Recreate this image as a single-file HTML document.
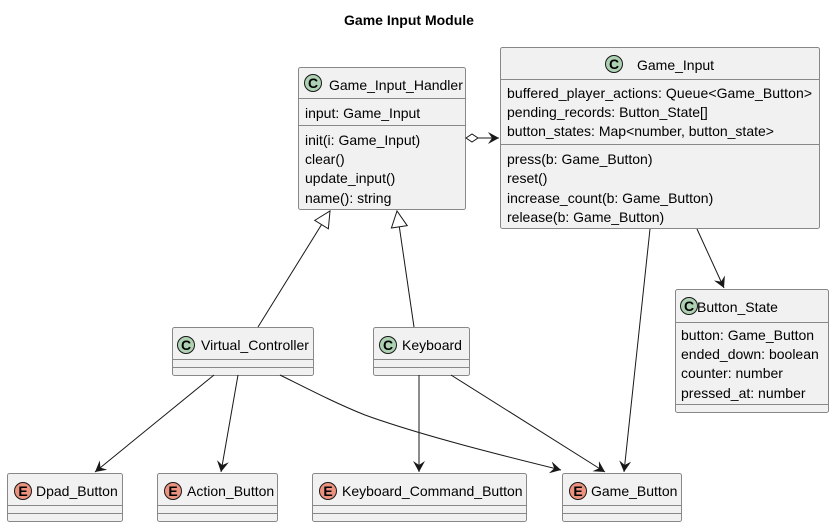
<!DOCTYPE html>
<html><head><style>body{margin:0;background:#fff}svg{display:block}text{font-family:"Liberation Sans",sans-serif;font-size:14px;fill:#000}</style></head><body>
<svg width="832" height="527" viewBox="0 0 832 527" xmlns="http://www.w3.org/2000/svg">
<defs>
<marker id="a" markerWidth="14" markerHeight="14" refX="11" refY="6" orient="auto" markerUnits="userSpaceOnUse"><path d="M0,0 L11,6 L0,12 L4,6 Z" fill="#181818"/></marker>
<marker id="t" markerWidth="20" markerHeight="20" refX="17" refY="9" orient="auto" markerUnits="userSpaceOnUse"><path d="M1,1 L17,9 L1,17 Z" fill="#fff" stroke="#181818"/></marker>
</defs>
<text x="409" y="25" text-anchor="middle" style="font-weight:bold;font-size:14px">Game Input Module</text>
<g fill="#F1F1F1" stroke="#888" stroke-width="1">
<rect x="298.5" y="67.5" width="167" height="142" rx="2"/>
<rect x="500.5" y="47.5" width="319" height="181" rx="2"/>
<rect x="675.5" y="289.5" width="153" height="123" rx="2"/>
<rect x="172.5" y="327.5" width="141" height="48" rx="2"/>
<rect x="373.5" y="327.5" width="96" height="48" rx="2"/>
<rect x="7.5" y="473.5" width="115" height="48" rx="2"/>
<rect x="157.5" y="473.5" width="120" height="48" rx="2"/>
<rect x="312.5" y="473.5" width="214" height="48" rx="2"/>
<rect x="562.5" y="473.5" width="119" height="48" rx="2"/>
</g>
<g stroke="#888" stroke-width="1">
<path d="M298 98.5H466M298 125.5H466"/>
<path d="M500 79.5H820M500 144.5H820"/>
<path d="M675 322.5H829M675 404.5H829"/>
<path d="M172 359.5H314M172 367.5H314M373 359.5H470M373 367.5H470"/>
<path d="M7 505.5H123M7 513.5H123M157 505.5H278M157 513.5H278M312 505.5H527M312 513.5H527M562 505.5H682M562 513.5H682"/>
</g>
<g stroke="#181818" stroke-width="1">
<circle cx="313" cy="83" r="8.5" fill="#ADD1B2"/>
<circle cx="614" cy="64" r="8.5" fill="#ADD1B2"/>
<circle cx="689" cy="306" r="8.5" fill="#ADD1B2"/>
<circle cx="186" cy="345" r="8.5" fill="#ADD1B2"/>
<circle cx="388" cy="345" r="8.5" fill="#ADD1B2"/>
<circle cx="23" cy="491" r="8.5" fill="#EB937F"/>
<circle cx="173" cy="491" r="8.5" fill="#EB937F"/>
<circle cx="328" cy="491" r="8.5" fill="#EB937F"/>
<circle cx="578" cy="491" r="8.5" fill="#EB937F"/>
</g>
<g style="font-family:'Liberation Serif',serif;font-weight:bold;font-size:13px" text-anchor="middle">
<text x="313" y="88">C</text><text x="614" y="69">C</text><text x="689" y="311">C</text><text x="186" y="350">C</text><text x="388" y="350">C</text>
<text x="23" y="496">E</text><text x="173" y="496">E</text><text x="328" y="496">E</text><text x="578" y="496">E</text>
</g>
<text x="329" y="90">Game_Input_Handler</text>
<text x="305" y="118">input: Game_Input</text>
<text x="305" y="145">init(i: Game_Input)</text>
<text x="305" y="164">clear()</text>
<text x="305" y="183">update_input()</text>
<text x="305" y="203">name(): string</text>
<text x="637" y="70">Game_Input</text>
<text x="507" y="98" textLength="305">buffered_player_actions: Queue&lt;Game_Button&gt;</text>
<text x="507" y="117">pending_records: Button_State[]</text>
<text x="507" y="136">button_states: Map&lt;number, button_state&gt;</text>
<text x="507" y="164">press(b: Game_Button)</text>
<text x="507" y="183">reset()</text>
<text x="507" y="203">increase_count(b: Game_Button)</text>
<text x="507" y="222">release(b: Game_Button)</text>
<text x="697" y="312">Button_State</text>
<text x="681" y="340">button: Game_Button</text>
<text x="681" y="359">ended_down: boolean</text>
<text x="681" y="378">counter: number</text>
<text x="681" y="398">pressed_at: number</text>
<text x="201" y="350">Virtual_Controller</text>
<text x="402" y="350">Keyboard</text>
<text x="36" y="496">Dpad_Button</text>
<text x="187" y="496">Action_Button</text>
<text x="342" y="496">Keyboard_Command_Button</text>
<text x="591" y="496">Game_Button</text>
<g stroke="#181818" stroke-width="1" fill="none">
<path d="M466,138 L472,134 L478,138 L472,142 Z" fill="#fff"/>
<path d="M478,138 L499,138" marker-end="url(#a)"/>
<path d="M258,327 L330,211" marker-end="url(#t)"/>
<path d="M414,327 L397,211" marker-end="url(#t)"/>
<path d="M650,229 L624,472" marker-end="url(#a)"/>
<path d="M697,229 L724,288" marker-end="url(#a)"/>
<path d="M214,375 L95,472" marker-end="url(#a)"/>
<path d="M238,375 L221,472" marker-end="url(#a)"/>
<path d="M280,375 C320,395 340,405 365,415 C420,435 500,455 561,470" marker-end="url(#a)"/>
<path d="M419,375 L419,472" marker-end="url(#a)"/>
<path d="M451,375 L605,472" marker-end="url(#a)"/>
</g>
</svg>
</body></html>
